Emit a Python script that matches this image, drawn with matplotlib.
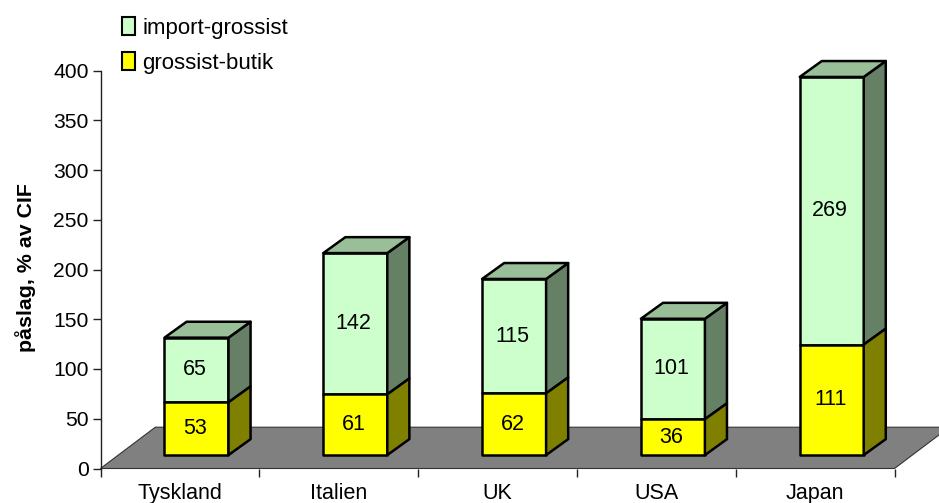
#!/usr/bin/env python3
# -*- coding: utf-8 -*-

import matplotlib
matplotlib.use('Agg')
import matplotlib.pyplot as plt
from matplotlib.patches import Patch

W, H = 939, 503

countries = ['Tyskland', 'Italien', 'UK', 'USA', 'Japan']
grossist_butik = [53, 61, 62, 36, 111]
import_grossist = [65, 142, 115, 101, 269]
y_ticks = [0, 50, 100, 150, 200, 250, 300, 350, 400]

plt.rcParams['font.family'] = ['Liberation Sans', 'DejaVu Sans']

# 3D look, in data units
BAR_LEFT = 0.403
BAR_WIDTH = 0.403
BASE = 13.5
DEPTH_X = 0.139
DEPTH_Y = 16
FLOOR_X = 0.345
FLOOR_Y = 41.5
EDGE = 1.8


def draw_block(ax, x, bottom, top, front, side, roof):
    x2 = x + BAR_WIDTH
    ax.fill([x, x2, x2, x], [bottom, bottom, top, top], facecolor=front,
            edgecolor='black', linewidth=EDGE, joinstyle='round', clip_on=False, zorder=3)
    ax.fill([x2, x2 + DEPTH_X, x2 + DEPTH_X, x2],
            [bottom, bottom + DEPTH_Y, top + DEPTH_Y, top], facecolor=side,
            edgecolor='black', linewidth=EDGE, joinstyle='round', clip_on=False, zorder=3)
    if roof is not None:
        ax.fill([x, x2, x2 + DEPTH_X, x + DEPTH_X],
                [top, top, top + DEPTH_Y, top + DEPTH_Y], facecolor=roof,
                edgecolor='black', linewidth=EDGE, joinstyle='round', clip_on=False, zorder=3)


fig = plt.figure(figsize=(W / 100, H / 100), dpi=100)
ax = fig.add_axes([100.5 / W, 1 - 468.5 / H, 794 / W, 398 / H])
n = len(countries)
ax.set_xlim(0, n)
ax.set_ylim(0, 400)

# Floor
ax.fill([0, n, n + FLOOR_X, FLOOR_X], [0, 0, FLOOR_Y, FLOOR_Y], facecolor='#808080',
        edgecolor='#333333', linewidth=0.8, clip_on=False, zorder=1)

for i in range(n):
    x = i + BAR_LEFT
    low = grossist_butik[i]
    high = low + import_grossist[i]
    draw_block(ax, x, BASE + low, BASE + high, '#CCFFCC', '#668066', '#99BF99')
    draw_block(ax, x, BASE, BASE + low, '#FFFF00', '#808000', None)
    ax.text(x + BAR_WIDTH / 2 - 0.01, BASE + low / 2, str(low), ha='center', va='center',
            fontsize=15.5, zorder=4)
    ax.text(x + BAR_WIDTH / 2 - 0.01, BASE + low + import_grossist[i] / 2, str(import_grossist[i]),
            ha='center', va='center', fontsize=15.5, zorder=4)

# Axes
for name in ['top', 'right', 'bottom']:
    ax.spines[name].set_visible(False)
ax.spines['left'].set_linewidth(1)
ax.spines['left'].set_color('#222222')
ax.set_yticks(y_ticks)
ax.tick_params(axis='y', labelsize=15.2, length=6, width=1, color='#222222', pad=2.5)
ax.set_xticks(range(n + 1))
ax.set_xticklabels([])
ax.tick_params(axis='x', which='major', length=6, width=1, color='#222222')
ax.set_xticks([i + 0.5 for i in range(n)], minor=True)
ax.set_xticklabels(countries, minor=True, fontsize=15.5)
ax.tick_params(axis='x', which='minor', length=0, pad=10.5)
ax.patch.set_visible(False)

fig.text(26 / W, 1 - 268 / H, 'påslag, % av CIF', rotation=90, ha='center', va='center',
         fontsize=15.4, fontweight='bold')

handles = [Patch(facecolor='#CCFFCC', edgecolor='black', linewidth=1.5),
           Patch(facecolor='#FFFF00', edgecolor='black', linewidth=1.5)]
fig.legend(handles, ['import-grossist', 'grossist-butik'], loc='upper left',
           bbox_to_anchor=(118 / W, 1 - 13 / H), frameon=False, fontsize=16,
           handlelength=0.58, handleheight=0.85, handletextpad=0.3, labelspacing=0.6,
           borderpad=0.2, borderaxespad=0)

fig.savefig('out.png', dpi=100)
